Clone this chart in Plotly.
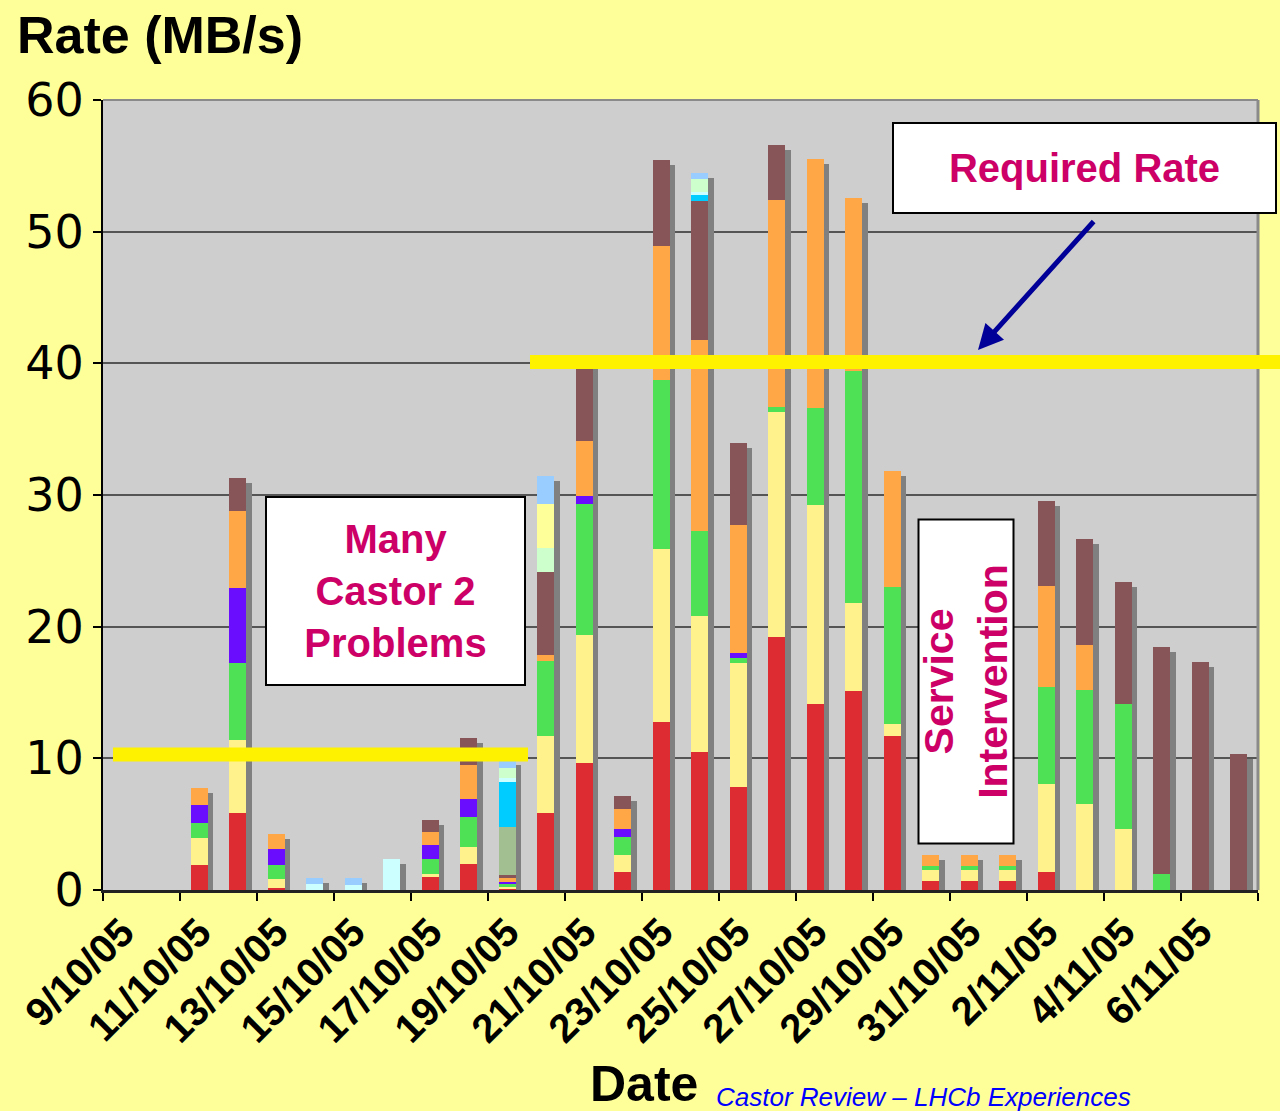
import plotly.graph_objects as go

# ---------------- data ----------------
dates = ["9/10/05", "10/10/05", "11/10/05", "12/10/05", "13/10/05", "14/10/05",
         "15/10/05", "16/10/05", "17/10/05", "18/10/05", "19/10/05", "20/10/05",
         "21/10/05", "22/10/05", "23/10/05", "24/10/05", "25/10/05", "26/10/05",
         "27/10/05", "28/10/05", "29/10/05", "30/10/05", "31/10/05", "1/11/05",
         "2/11/05", "3/11/05", "4/11/05", "5/11/05", "6/11/05", "7/11/05"]

s_red = [0, 0, 1.9, 5.85, 0.15, 0, 0, 0, 0.99, 1.97, 0.15, 5.85, 9.65, 1.37, 12.76,
         10.48, 7.82, 19.2, 14.13, 15.11, 11.7, 0.68, 0.68, 0.68, 1.37, 0, 0, 0, 0, 0]
s_yellow = [0, 0, 2.05, 5.54, 0.69, 0, 0, 0, 0.23, 1.3, 0.15, 5.85, 9.72, 1.29, 13.14,
            10.33, 9.42, 17.1, 15.11, 6.69, 0.9, 0.84, 0.84, 0.84, 6.68, 6.53, 4.63, 0, 0, 0]
s_green = [0, 0, 1.14, 5.85, 1.06, 0, 0, 0, 1.13, 2.27, 0.15, 5.69, 9.95, 1.37, 12.83,
           6.46, 0.38, 0.38, 7.36, 17.62, 10.41, 0.3, 0.3, 0.3, 7.37, 8.66, 9.5, 1.22, 0, 0]
s_purple = [0, 0, 1.37, 5.7, 1.21, 0, 0, 0, 1.08, 1.37, 0.16, 0, 0.6, 0.6, 0,
            0, 0.38, 0, 0, 0, 0, 0, 0, 0, 0, 0, 0, 0, 0, 0]
s_orange = [0, 0, 1.29, 5.86, 1.14, 0, 0, 0, 0.98, 2.58, 0.3, 0.46, 4.18, 1.52, 10.18,
            14.5, 9.72, 15.72, 18.92, 13.13, 8.81, 0.84, 0.84, 0.84, 7.67, 3.42, 0, 0, 0, 0]
s_brown = [0, 0, 0, 2.5, 0, 0, 0, 0, 0.91, 2.05, 0.23, 6.31, 5.9, 0.99, 6.53,
           10.56, 6.23, 4.18, 0, 0, 0, 0, 0, 0, 6.45, 8.05, 9.26, 17.24, 17.32, 10.33]
s_olive = [0, 0, 0, 0, 0, 0, 0, 0, 0, 0, 3.64, 0, 0, 0, 0,
           0, 0, 0, 0, 0, 0, 0, 0, 0, 0, 0, 0, 0, 0, 0]
s_cyan = [0, 0, 0, 0, 0, 0, 0, 0, 0, 0, 3.42, 0, 0, 0, 0,
          0.5, 0, 0, 0, 0, 0, 0, 0, 0, 0, 0, 0, 0, 0, 0]
s_lightcyan = [0, 0, 0, 0, 0, 0.46, 0.4, 2.35, 0, 0, 0.3, 0, 0, 0, 0,
               0.15, 0, 0, 0, 0, 0, 0, 0, 0, 0, 0, 0, 0, 0, 0]
s_lightgreen = [0, 0, 0, 0, 0, 0, 0, 0, 0, 0, 0.76, 1.83, 0, 0, 0,
                1.0, 0, 0, 0, 0, 0, 0, 0, 0, 0, 0, 0, 0, 0, 0]
s_paleyellow = [0, 0, 0, 0, 0, 0, 0, 0, 0, 0, 0, 3.34, 0, 0, 0,
                0, 0, 0, 0, 0, 0, 0, 0, 0, 0, 0, 0, 0, 0, 0]
s_lightblue = [0, 0, 0, 0, 0, 0.45, 0.5, 0, 0, 0, 0.61, 2.13, 0, 0, 0,
               0.45, 0, 0, 0, 0, 0, 0, 0, 0, 0, 0, 0, 0, 0, 0]

series = [
    ("Series 1", s_red, "#DD2D32"),
    ("Series 2", s_yellow, "#FFF28C"),
    ("Series 3", s_green, "#4EE155"),
    ("Series 4", s_purple, "#6A0DFF"),
    ("Series 5", s_orange, "#FFA647"),
    ("Series 6", s_brown, "#875457"),
    ("Series 7", s_olive, "#A1BF91"),
    ("Series 8", s_cyan, "#00CCFF"),
    ("Series 9", s_lightcyan, "#CCFFFF"),
    ("Series 10", s_lightgreen, "#CCFFCC"),
    ("Series 11", s_paleyellow, "#FFFF99"),
    ("Series 12", s_lightblue, "#99CCFF"),
]

required_rate = 40.1
early_rate = 10.3

# ---------------- geometry ----------------
W, H = 1280, 1111
L, R, T, B = 103, 1258, 100, 890
pw, ph = R - L, B - T
ncat = len(dates)
cat_px = pw / ncat
y_max = 60
unit_px = ph / y_max
shadow_dx = 5.5 / cat_px
shadow_dy = 5 / unit_px


def px2x(px):
    return (px - L) / pw


def py2y(py):
    return (B - py) / ph


FONT = "Liberation Sans, Arial, sans-serif"
MAGENTA = "#CC0066"

totals = [sum(s[1][i] for s in series) for i in range(ncat)]

fig = go.Figure()

# shadow bars (main axes, shifted ranges)
fig.add_trace(go.Bar(x=dates, y=totals, marker=dict(color="#808080", line=dict(width=0)),
                     xaxis="x", yaxis="y", showlegend=False, hoverinfo="skip"))

for name, vals, col in series:
    fig.add_trace(go.Bar(x=dates, y=vals, name=name,
                         marker=dict(color=col, line=dict(width=0)),
                         xaxis="x2", yaxis="y2", showlegend=False))

fig.update_layout(
    width=W, height=H,
    margin=dict(l=L, r=W - R, t=T, b=H - B, pad=0),
    paper_bgcolor="#FFFF99",
    plot_bgcolor="#CECECE",
    barmode="stack",
    bargap=0.56,
    showlegend=False,
    font=dict(family=FONT, color="black"),
    xaxis=dict(type="category", categoryarray=dates, categoryorder="array",
               range=[-0.5 - shadow_dx, ncat - 0.5 - shadow_dx], visible=False,
               fixedrange=True),
    yaxis=dict(range=[shadow_dy, y_max + shadow_dy], visible=False, fixedrange=True),
    xaxis2=dict(type="category", categoryarray=dates, categoryorder="array",
                overlaying="x", anchor="y2",
                range=[-0.5, ncat - 0.5],
                tickmode="linear", tick0=0, dtick=2,
                tickson="boundaries",
                ticks="outside", ticklen=8, tickwidth=1.5, tickcolor="black",
                tickangle=-45,
                tickfont=dict(family=FONT, size=40, color="black", weight="bold"),
                showgrid=False, zeroline=False,
                showline=True, linecolor="#222222", linewidth=2.5),
    yaxis2=dict(overlaying="y", anchor="x2", side="left",
                range=[0, y_max], tickmode="linear", tick0=0, dtick=10,
                ticks="outside", ticklen=8, tickwidth=1.5, tickcolor="black",
                ticklabelstandoff=0,
                tickfont=dict(family="DejaVu Sans, Verdana, sans-serif", size=46, color="black"),
                showgrid=True, gridcolor="#555555", gridwidth=2,
                zeroline=False,
                showline=True, linecolor="black", linewidth=2),
)

# plot area top/right border
fig.add_shape(type="line", xref="paper", yref="paper", x0=0, x1=1, y0=1, y1=1,
              line=dict(color="#8A8A8A", width=2))
fig.add_shape(type="line", xref="paper", yref="paper", x0=1, x1=1, y0=0, y1=1,
              line=dict(color="#8A8A8A", width=3))

# yellow highlight lines
fig.add_shape(type="line", xref="paper", yref="y2", x0=px2x(113), x1=px2x(528),
              y0=early_rate, y1=early_rate, line=dict(color="#FFF200", width=14), layer="above")
fig.add_shape(type="line", xref="paper", yref="y2", x0=px2x(530), x1=px2x(1290),
              y0=required_rate, y1=required_rate, line=dict(color="#FFF200", width=14), layer="above")

# title / axis texts
fig.add_annotation(text="Rate (MB/s)", xref="paper", yref="paper",
                   x=px2x(15), y=py2y(35), xanchor="left", yanchor="middle", showarrow=False,
                   font=dict(family=FONT, size=52, color="black", weight="bold"))
fig.add_annotation(text="Date", xref="paper", yref="paper",
                   x=px2x(588), y=py2y(1084), xanchor="left", yanchor="middle", showarrow=False,
                   font=dict(family=FONT, size=50, color="black", weight="bold"))
fig.add_annotation(text="<i>Castor Review \u2013 LHCb Experiences</i>", xref="paper", yref="paper",
                   x=px2x(714), y=py2y(1097), xanchor="left", yanchor="middle", showarrow=False,
                   font=dict(family=FONT, size=26, color="#0000FF", style="italic"))

# boxes
fig.add_annotation(text="Many<br>Castor 2<br>Problems", xref="paper", yref="paper",
                   x=px2x(395.5), y=py2y(591), xanchor="center", yanchor="middle",
                   showarrow=False, width=257, height=186, bgcolor="white",
                   bordercolor="black", borderwidth=2, borderpad=0,
                   font=dict(family=FONT, size=40, color=MAGENTA, weight="bold"))
fig.add_annotation(text="Required Rate", xref="paper", yref="paper",
                   x=px2x(1084.5), y=py2y(168), xanchor="center", yanchor="middle",
                   showarrow=False, width=381, height=88, bgcolor="white",
                   bordercolor="black", borderwidth=2, borderpad=0,
                   font=dict(family=FONT, size=40, color=MAGENTA, weight="bold"))
fig.add_annotation(text="Service<br>Intervention", xref="paper", yref="paper",
                   x=px2x(965.5), y=py2y(682), xanchor="center", yanchor="middle",
                   showarrow=False, width=322, height=93, textangle=-90, bgcolor="white",
                   bordercolor="black", borderwidth=2, borderpad=0,
                   font=dict(family=FONT, size=41, color=MAGENTA, weight="bold"))

# arrow
fig.add_annotation(text="", xref="paper", yref="paper",
                   x=px2x(978), y=py2y(350), ax=1095 - 978, ay=220 - 350,
                   axref="pixel", ayref="pixel",
                   showarrow=True, arrowhead=2, arrowsize=1, arrowwidth=5,
                   arrowcolor="#000099")

fig.write_html("out.html", config={"displayModeBar": False},
               post_script="document.body.style.margin='0';document.body.style.padding='0';")
